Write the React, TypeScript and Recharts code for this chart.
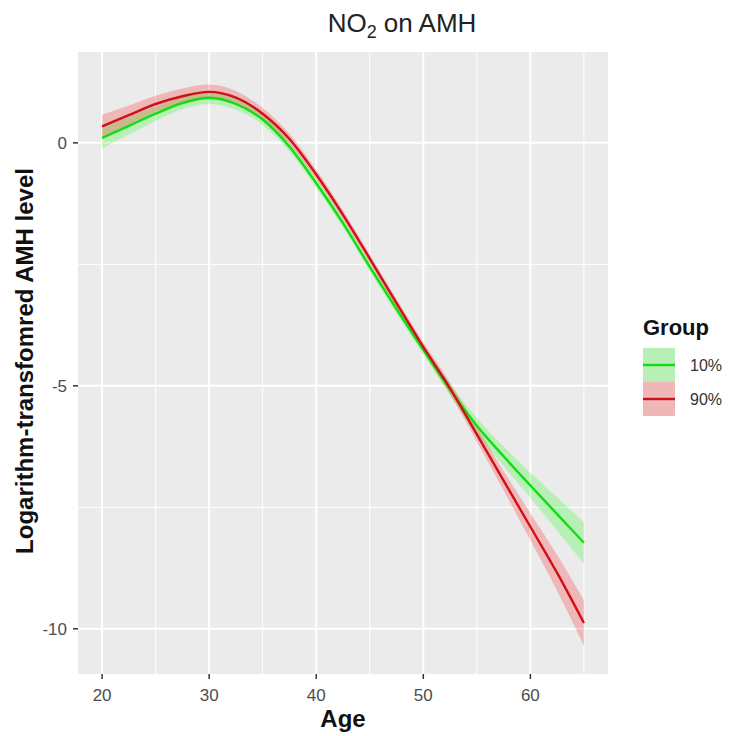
import React from 'react';
import { ComposedChart, Area, Line, XAxis, YAxis, CartesianGrid } from 'recharts';

const ages = [20, 22.5, 25, 27.5, 30, 32.5, 35, 37.5, 40, 42.5, 45, 47.5, 50, 52.5, 55, 57.5, 60, 62.5, 65];

const fit10 = [0.1, 0.35, 0.6, 0.82, 0.93, 0.8, 0.48, -0.08, -0.83, -1.65, -2.55, -3.42, -4.26, -5.08, -5.82, -6.45, -7.05, -7.64, -8.23];
const low10 = [-0.12, 0.17, 0.45, 0.69, 0.8, 0.68, 0.37, -0.18, -0.93, -1.74, -2.64, -3.51, -4.36, -5.2, -5.98, -6.65, -7.31, -7.98, -8.66];
const high10 = [0.32, 0.53, 0.75, 0.95, 1.06, 0.92, 0.59, 0.02, -0.73, -1.56, -2.46, -3.33, -4.16, -4.96, -5.66, -6.25, -6.79, -7.3, -7.8];

const fit90 = [0.34, 0.57, 0.8, 0.96, 1.05, 0.93, 0.6, 0.08, -0.65, -1.48, -2.38, -3.3, -4.2, -5.05, -6.0, -6.95, -7.9, -8.85, -9.88];
const low90 = [0.1, 0.37, 0.63, 0.8, 0.9, 0.79, 0.48, -0.03, -0.75, -1.57, -2.47, -3.39, -4.3, -5.17, -6.15, -7.15, -8.18, -9.22, -10.35];
const high90 = [0.58, 0.77, 0.97, 1.12, 1.2, 1.07, 0.72, 0.19, -0.55, -1.39, -2.29, -3.21, -4.1, -4.93, -5.85, -6.75, -7.62, -8.48, -9.41];

const groups = ['10%', '90%'];
const xTicks = [20, 30, 40, 50, 60];
const yTicks = [-10, -5, 0];
const xMinor = [25, 35, 45, 55, 65];
const yMinor = [-7.5, -2.5];

const GREEN = '#11DD11';
const RED = '#D01018';

const data = ages.map((age, i) => ({
  age,
  g: fit10[i],
  gBand: [low10[i], high10[i]],
  r: fit90[i],
  rBand: [low90[i], high90[i]],
}));

const font = '"Liberation Sans", Arial, sans-serif';

export default function App() {
  return (
    <div style={{ position: 'absolute', left: 0, top: 0, width: 730, height: 736, background: '#fff', fontFamily: font }}>
      <ComposedChart width={730} height={736} data={data} margin={{ top: 52, right: 122, bottom: 0, left: 0 }}>
        <CartesianGrid fill="#EBEBEB" fillOpacity={1} stroke="#FFFFFF" strokeWidth={1} horizontalValues={yMinor} verticalValues={xMinor} />
        <CartesianGrid stroke="#FFFFFF" strokeWidth={2} horizontalValues={yTicks} verticalValues={xTicks} />
        <XAxis
          dataKey="age"
          type="number"
          domain={[17.75, 67.25]}
          allowDataOverflow
          ticks={xTicks}
          height={62}
          axisLine={false}
          tickLine={{ stroke: '#333333', strokeWidth: 1.5 }}
          tickSize={5}
          tickMargin={10}
          tick={{ fill: '#4D4D4D', fontSize: 17, fontFamily: font }}
        />
        <YAxis
          type="number"
          domain={[-10.93, 1.87]}
          allowDataOverflow
          ticks={yTicks}
          width={78}
          axisLine={false}
          tickLine={{ stroke: '#333333', strokeWidth: 1.5 }}
          tickSize={5}
          tickMargin={6}
          tick={{ fill: '#4D4D4D', fontSize: 17, fontFamily: font }}
        />
        <Area dataKey="gBand" type="monotone" fill="#00FF00" fillOpacity={0.22} stroke="none" isAnimationActive={false} />
        <Area dataKey="rBand" type="monotone" fill="#FF0000" fillOpacity={0.22} stroke="none" isAnimationActive={false} />
        <Line dataKey="g" type="monotone" stroke={GREEN} strokeWidth={2.4} dot={false} isAnimationActive={false} />
        <Line dataKey="r" type="monotone" stroke={RED} strokeWidth={2.4} dot={false} isAnimationActive={false} />
      </ComposedChart>
      <svg width={730} height={736} style={{ position: 'absolute', left: 0, top: 0, pointerEvents: 'none' }}>
        <text x={402} y={32} textAnchor="middle" fontSize={26} fill="#222" fontFamily={font}>
          NO<tspan fontSize={18} dy={6}>2</tspan><tspan dy={-6}> on AMH</tspan>
        </text>
        <text x={343} y={727} textAnchor="middle" fontSize={24} fontWeight="bold" fill="#111" fontFamily={font}>Age</text>
        <text x={33} y={361} textAnchor="middle" fontSize={24} fontWeight="bold" fill="#111" fontFamily={font} transform="rotate(-90 33 361)">
          Logarithm-transfomred AMH level
        </text>
        <text x={643} y={335} fontSize={22} fontWeight="bold" fill="#111" fontFamily={font}>Group</text>
        {groups.map((g, i) => {
          const y0 = 348 + i * 34;
          const col = i === 0 ? GREEN : RED;
          const band = i === 0 ? 'rgba(0,255,0,0.22)' : 'rgba(255,0,0,0.22)';
          return (
            <g key={g}>
              <rect x={643} y={y0} width={32} height={34} fill="#EBEBEB" />
              <rect x={643} y={y0} width={32} height={34} fill={band} />
              <line x1={643} x2={675} y1={y0 + 17} y2={y0 + 17} stroke={col} strokeWidth={2.4} />
              <text x={690} y={y0 + 23} fontSize={16} fill="#333" fontFamily={font}>{g}</text>
            </g>
          );
        })}
      </svg>
    </div>
  );
}
